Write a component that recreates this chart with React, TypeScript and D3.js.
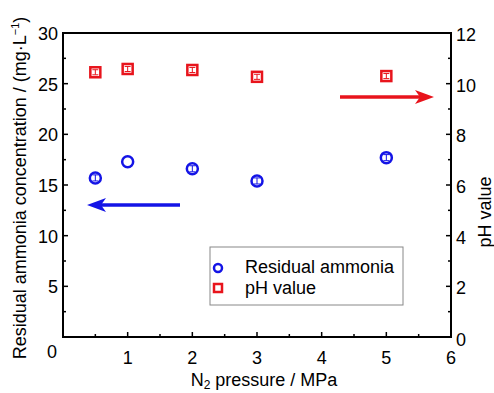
import React from "react";
import * as d3 from "d3";

const pressures = [0.5, 1, 2, 3, 5];
const ammonia = [15.7, 17.3, 16.6, 15.4, 17.7];
const ammoniaErr = [0.3, 0, 0.3, 0.3, 0.3];
const phValues = [10.45, 10.58, 10.54, 10.27, 10.3];
const phErr = [0.1, 0.1, 0.1, 0.1, 0.1];
const xTicks = [1, 2, 3, 4, 5, 6];
const yLeftTicks = [5, 10, 15, 20, 25, 30];
const yRightTicks = [0, 2, 4, 6, 8, 10, 12];

const W = 494, H = 393;
const L = 63, R = 451, T = 33, B = 337;
const FONT = "Liberation Sans, Arial, sans-serif";
const FS = 18;

export default function App() {
  const x = d3.scaleLinear().domain([0, 6]).range([L, R]);
  const yL = d3.scaleLinear().domain([0, 30]).range([B, T]);
  const yR = d3.scaleLinear().domain([0, 12]).range([B, T]);
  const blue = "#1414e6";
  const red = "#e8141c";
  const minorX = d3.range(0.5, 6, 1);
  const minorYL = d3.range(2.5, 30, 5);
  const minorYR = d3.range(1, 12, 2);
  return (
    <svg width={W} height={H} style={{ position: "absolute", left: 0, top: 0 }} fontFamily={FONT}>
      <rect width={W} height={H} fill="#fff" />
      {/* ticks */}
      {xTicks.map((t) => (
        <line key={"xt" + t} x1={x(t)} x2={x(t)} y1={B} y2={B - 5} stroke="#000" strokeWidth={1.5} />
      ))}
      {minorX.map((t) => (
        <line key={"xm" + t} x1={x(t)} x2={x(t)} y1={B} y2={B - 3} stroke="#000" strokeWidth={1.5} />
      ))}
      {yLeftTicks.map((t) => (
        <line key={"yl" + t} x1={L} x2={L + 5} y1={yL(t)} y2={yL(t)} stroke="#000" strokeWidth={1.5} />
      ))}
      {minorYL.map((t) => (
        <line key={"ylm" + t} x1={L} x2={L + 3} y1={yL(t)} y2={yL(t)} stroke="#000" strokeWidth={1.5} />
      ))}
      {yRightTicks.map((t) => (
        <line key={"yr" + t} x1={R} x2={R - 5} y1={yR(t)} y2={yR(t)} stroke="#000" strokeWidth={1.5} />
      ))}
      {minorYR.map((t) => (
        <line key={"yrm" + t} x1={R} x2={R - 3} y1={yR(t)} y2={yR(t)} stroke="#000" strokeWidth={1.5} />
      ))}
      <rect x={L} y={T} width={R - L} height={B - T} fill="none" stroke="#000" strokeWidth={2} />
      {/* tick labels */}
      <text x={52} y={358} fontSize={FS} textAnchor="middle">0</text>
      {xTicks.map((t) => (
        <text key={"xl" + t} x={x(t)} y={364} fontSize={FS} textAnchor="middle">{t}</text>
      ))}
      {yLeftTicks.map((t) => (
        <text key={"yll" + t} x={L - 5} y={yL(t) + 7} fontSize={FS} textAnchor="end">{t}</text>
      ))}
      {yRightTicks.map((t) => (
        <text key={"yrl" + t} x={R + 5} y={t === 0 ? yR(t) + 9 : yR(t) + 8} fontSize={FS} textAnchor="start">{t}</text>
      ))}
      {/* axis titles */}
      <text x={264} y={386} fontSize={FS} textAnchor="middle">
        N<tspan fontSize={12} dy={3}>2</tspan><tspan dy={-3}> pressure / MPa</tspan>
      </text>
      <text transform={`translate(26,188) rotate(-90)`} fontSize={FS} textAnchor="middle">
        Residual ammonia concentration / (mg·L<tspan fontSize={11} dy={-7}>−1</tspan><tspan dy={7}>)</tspan>
      </text>
      <text transform={`translate(491,212) rotate(-90)`} fontSize={FS} textAnchor="middle">pH value</text>
      {/* data: ammonia */}
      {pressures.map((p, i) => (
        <g key={"a" + i}>
          <circle cx={x(p)} cy={yL(ammonia[i])} r={5.5} fill="none" stroke={blue} strokeWidth={2.5} />
          {ammoniaErr[i] > 0 && (
            <g stroke={blue} strokeWidth={1}>
              <line x1={x(p)} x2={x(p)} y1={yL(ammonia[i] - ammoniaErr[i])} y2={yL(ammonia[i] + ammoniaErr[i])} />
              <line x1={x(p) - 3} x2={x(p) + 3} y1={yL(ammonia[i] - ammoniaErr[i])} y2={yL(ammonia[i] - ammoniaErr[i])} />
              <line x1={x(p) - 3} x2={x(p) + 3} y1={yL(ammonia[i] + ammoniaErr[i])} y2={yL(ammonia[i] + ammoniaErr[i])} />
            </g>
          )}
        </g>
      ))}
      {/* data: pH */}
      {pressures.map((p, i) => (
        <g key={"p" + i}>
          <rect x={x(p) - 5} y={yR(phValues[i]) - 5} width={10} height={10} fill="none" stroke={red} strokeWidth={2.5} />
          <g stroke={red} strokeWidth={1}>
            <line x1={x(p)} x2={x(p)} y1={yR(phValues[i] - phErr[i])} y2={yR(phValues[i] + phErr[i])} />
            <line x1={x(p) - 3} x2={x(p) + 3} y1={yR(phValues[i] - phErr[i])} y2={yR(phValues[i] - phErr[i])} />
            <line x1={x(p) - 3} x2={x(p) + 3} y1={yR(phValues[i] + phErr[i])} y2={yR(phValues[i] + phErr[i])} />
          </g>
        </g>
      ))}
      {/* arrows */}
      <line x1={180} x2={100} y1={205} y2={205} stroke={blue} strokeWidth={3.5} />
      <path d="M87,205 L106,198 L101,205 L106,212 Z" fill={blue} />
      <line x1={340} x2={420} y1={97} y2={97} stroke={red} strokeWidth={3.5} />
      <path d="M434,97 L415,90 L420,97 L415,104 Z" fill={red} />
      {/* legend */}
      <rect x={210} y={247} width={193} height={58} fill="#fff" stroke="#888" strokeWidth={1} />
      <circle cx={218} cy={268} r={4} fill="none" stroke={blue} strokeWidth={2.5} />
      <text x={245} y={273} fontSize={FS}>Residual ammonia</text>
      <rect x={214} y={284} width={8} height={8} fill="none" stroke={red} strokeWidth={2.5} />
      <text x={245} y={294} fontSize={FS}>pH value</text>
    </svg>
  );
}
